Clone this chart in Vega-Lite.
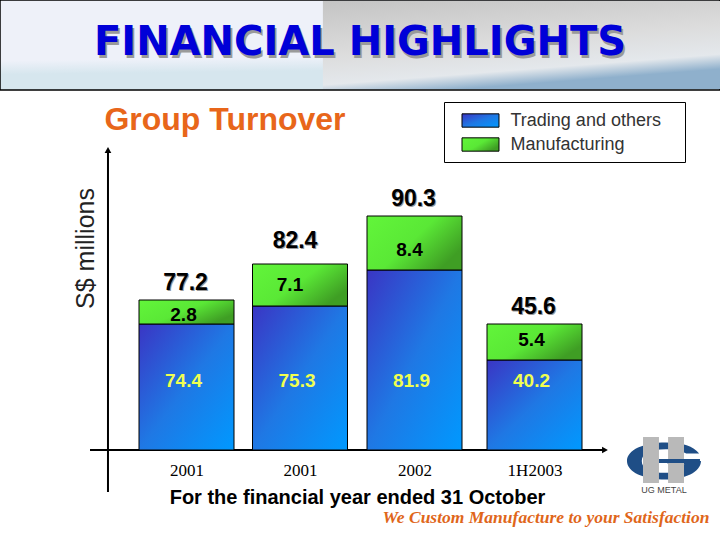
{
  "$schema": "https://vega.github.io/schema/vega-lite/v6.json",
  "width": 720,
  "height": 450,
  "padding": {"left": 0, "top": 0, "right": 0, "bottom": 90},
  "autosize": {"type": "none"},
  "background": "white",
  "config": {"view": {"stroke": null}},
  "title": {
    "text": "FINANCIAL HIGHLIGHTS",
    "anchor": "middle",
    "frame": "group",
    "font": "DejaVu Sans",
    "fontSize": 40,
    "fontWeight": "bold",
    "color": "#0000d8",
    "dy": 68
  },
  "datasets": {
    "turnover": [
      {"bar": 1, "period": "2001", "segment": "Trading and others", "value": 74.4},
      {"bar": 1, "period": "2001", "segment": "Manufacturing", "value": 2.8},
      {"bar": 2, "period": "2001", "segment": "Trading and others", "value": 75.3},
      {"bar": 2, "period": "2001", "segment": "Manufacturing", "value": 7.1},
      {"bar": 3, "period": "2002", "segment": "Trading and others", "value": 81.9},
      {"bar": 3, "period": "2002", "segment": "Manufacturing", "value": 8.4},
      {"bar": 4, "period": "1H2003", "segment": "Trading and others", "value": 40.2},
      {"bar": 4, "period": "1H2003", "segment": "Manufacturing", "value": 5.4}
    ],
    "totals": [
      {"bar": 1, "total": 77.2},
      {"bar": 2, "total": 82.4},
      {"bar": 3, "total": 90.3},
      {"bar": 4, "total": 45.6}
    ],
    "note": [{"note": "decoration"}]
  },
  "data": {"name": "note"},
  "layer": [
    {
      "mark": {
        "type": "rect",
        "stroke": "black",
        "strokeWidth": 1.5,
        "fill": {
          "gradient": "linear", "x1": 0.2, "y1": 0, "x2": 0.3, "y2": 1,
          "stops": [
            {"offset": 0, "color": "#eef1f9"},
            {"offset": 0.65, "color": "#eef1f9"},
            {"offset": 0.8, "color": "#d6e6ee"},
            {"offset": 1, "color": "#d6e6ee"}
          ]
        }
      },
      "encoding": {
        "x": {
          "datum": 0, "type": "quantitative",
          "scale": {"domain": [0, 1, 2, 3, 4, 5], "range": [0, 186.5, 300, 414.5, 534.5, 720], "zero": false, "nice": false, "padding": 0},
          "axis": {
            "values": [1, 2, 3, 4],
            "labelExpr": "['2001','2001','2002','1H2003'][datum.value-1]",
            "domain": false, "ticks": false, "grid": false,
            "labelFont": "Liberation Serif", "labelFontSize": 17, "labelColor": "black", "labelPadding": 12, "labelOverlap": false,
            "title": "For the financial year ended 31 October",
            "titleFont": "Liberation Sans", "titleFontSize": 20, "titleFontWeight": "bold", "titleColor": "black",
            "titleX": 357, "titleY": 37
          }
        },
        "x2": {"datum": 5},
        "y": {
          "datum": 150, "type": "quantitative",
          "scale": {"domain": [-30, 0, 40.2, 45.6, 74.4, 75.3, 77.2, 81.9, 82.4, 90.3, 100, 150], "range": [540, 450, 360, 324, 324, 306, 300, 270, 264, 216, 150, 0], "zero": false, "nice": false},
          "axis": {
            "domain": false, "ticks": false, "labels": false, "grid": false,
            "title": "S$ millions",
            "titleFont": "Liberation Sans", "titleFontSize": 25, "titleFontWeight": "normal", "titleColor": "#222222",
            "titleX": 98, "titleY": 248
          }
        },
        "y2": {"datum": 120}
      }
    },
    {
      "mark": {
        "type": "rect",
        "fill": {
          "gradient": "linear", "x1": 0, "y1": 0, "x2": 0.35, "y2": 1,
          "stops": [
            {"offset": 0, "color": "#c4c4c4"},
            {"offset": 0.55, "color": "#dcdcdc"},
            {"offset": 0.85, "color": "#e4e8ec"},
            {"offset": 1, "color": "#8fb0cc"}
          ]
        }
      },
      "encoding": {
        "x": {"datum": 2.2, "type": "quantitative"},
        "x2": {"datum": 5},
        "y": {"datum": 149.7, "type": "quantitative"},
        "y2": {"datum": 120.3}
      }
    },
    {
      "mark": {"type": "text", "font": "DejaVu Sans", "fontSize": 40, "fontWeight": "bold", "color": "#9a9a9a", "baseline": "alphabetic"},
      "encoding": {
        "x": {"datum": 2.54, "type": "quantitative"},
        "y": {"datum": 130.67, "type": "quantitative"},
        "text": {"value": "FINANCIAL HIGHLIGHTS"}
      }
    },
    {
      "mark": {"type": "text", "font": "Liberation Sans", "fontSize": 32, "fontWeight": "bold", "color": "#e8661a"},
      "encoding": {
        "x": {"datum": 1.339, "type": "quantitative"},
        "y": {"datum": 110, "type": "quantitative"},
        "text": {"value": "Group Turnover"}
      }
    },
    {
      "mark": {"type": "rule", "color": "black", "strokeWidth": 2},
      "encoding": {
        "x": {"datum": 0.579, "type": "quantitative"},
        "y": {"datum": 100, "type": "quantitative"},
        "y2": {"datum": -14}
      }
    },
    {
      "mark": {"type": "rule", "color": "black", "strokeWidth": 2},
      "encoding": {
        "x": {"datum": 0.4826, "type": "quantitative"},
        "x2": {"datum": 4.38},
        "y": {"datum": 0, "type": "quantitative"}
      }
    },
    {
      "mark": {"type": "point", "shape": "triangle-up", "filled": true, "color": "black", "size": 45, "opacity": 1},
      "encoding": {
        "x": {"datum": 0.579, "type": "quantitative"},
        "y": {"datum": 100, "type": "quantitative"}
      }
    },
    {
      "mark": {"type": "point", "shape": "triangle-right", "filled": true, "color": "black", "size": 45, "opacity": 1},
      "encoding": {
        "x": {"datum": 4.38, "type": "quantitative"},
        "y": {"datum": 0, "type": "quantitative"}
      }
    },
    {
      "data": {"name": "turnover"},
      "mark": {"type": "bar", "width": 95, "stroke": "black", "strokeWidth": 1},
      "encoding": {
        "x": {"field": "bar", "type": "quantitative"},
        "y": {"aggregate": "sum", "field": "value", "type": "quantitative", "stack": "zero"},
        "color": {
          "field": "segment", "type": "nominal",
          "scale": {
            "domain": ["Trading and others", "Manufacturing"],
            "range": [
              {"signal": "{gradient:'linear',x1:0,y1:0,x2:1,y2:1,stops:[{offset:0,color:'#3a35c4'},{offset:0.5,color:'#1f78e4'},{offset:1,color:'#0099ff'}]}"},
              {"signal": "{gradient:'linear',x1:0,y1:0,x2:1,y2:0.6,stops:[{offset:0,color:'#62f53a'},{offset:0.55,color:'#5ae836'},{offset:1,color:'#3f9e24'}]}"}
            ]
          },
          "legend": {
            "orient": "none", "legendX": 444, "legendY": 102,
            "title": null,
            "strokeColor": "black", "fillColor": "white", "padding": 8.5,
            "symbolType": "M-2,-0.72H2V0.72H-2Z",
            "symbolSize": 342, "symbolStrokeColor": "black", "symbolStrokeWidth": 1, "symbolOpacity": 1, "symbolOffset": 18,
            "labelFont": "Liberation Sans", "labelFontSize": 18, "labelColor": "#333333", "labelOffset": 20, "rowPadding": 5, "labelLimit": 400,
            "labelExpr": "datum.label + '\u00a0\u00a0\u00a0\u200b'"
          }
        },
        "order": {"field": "segment", "sort": "descending"}
      }
    },
    {
      "data": {"name": "turnover"},
      "transform": [{"filter": "datum.segment === 'Trading and others'"}],
      "mark": {"type": "text", "font": "Liberation Sans", "fontSize": 19, "fontWeight": "bold", "color": "#f0ff50", "dx": -3},
      "encoding": {
        "x": {"field": "bar", "type": "quantitative"},
        "y": {"datum": 30.8, "type": "quantitative"},
        "text": {"field": "value", "type": "quantitative", "format": ".1f"}
      }
    },
    {
      "data": {"name": "turnover"},
      "mark": {
        "type": "text", "font": "Liberation Sans", "fontSize": 19, "fontWeight": "bold", "color": "black",
        "dy": {"expr": "[10.6,-4.5,8.5,-2][datum.bar-1]"},
        "dx": {"expr": "[-3,-10,-5,-3][datum.bar-1]"}
      },
      "encoding": {
        "x": {"field": "bar", "type": "quantitative"},
        "y": {"aggregate": "sum", "field": "value", "type": "quantitative", "stack": "zero", "bandPosition": 0.5},
        "detail": {"field": "segment"},
        "order": {"field": "segment", "sort": "descending"},
        "text": {
          "condition": {"test": "datum.segment === 'Trading and others'", "value": ""},
          "aggregate": "sum", "field": "value", "type": "quantitative", "format": ".1f"
        }
      }
    },
    {
      "data": {"name": "totals"},
      "mark": {
        "type": "text", "font": "Liberation Sans", "fontSize": 23, "fontWeight": "bold", "color": "#9a9a9a",
        "dy": {"expr": "datum.bar === 2 ? -22 : -16"},
        "dx": {"expr": "datum.bar === 2 ? -4 : 0"}
      },
      "encoding": {
        "x": {"field": "bar", "type": "quantitative"},
        "y": {"field": "total", "type": "quantitative"},
        "text": {"field": "total", "type": "quantitative", "format": ".1f"}
      }
    },
    {
      "data": {"name": "totals"},
      "mark": {
        "type": "text", "font": "Liberation Sans", "fontSize": 23, "fontWeight": "bold", "color": "black",
        "dy": {"expr": "datum.bar === 2 ? -23 : -17"},
        "dx": {"expr": "datum.bar === 2 ? -5 : -1"}
      },
      "encoding": {
        "x": {"field": "bar", "type": "quantitative"},
        "y": {"field": "total", "type": "quantitative"},
        "text": {"field": "total", "type": "quantitative", "format": ".1f"}
      }
    },
    {
      "mark": {"type": "text", "font": "Liberation Serif", "fontSize": 17.5, "fontStyle": "italic", "fontWeight": "bold", "color": "#e0661a"},
      "encoding": {
        "x": {"datum": 4.062, "type": "quantitative"},
        "y": {"datum": -22.67, "type": "quantitative"},
        "text": {"value": "We Custom Manufacture to your Satisfaction"}
      }
    },
    {
      "mark": {"type": "point", "shape": "M0.05,-0.5C-0.55,-0.5,-1,-0.3,-1,0C-1,0.3,-0.55,0.5,0.05,0.5C0.55,0.5,1,0.3,1,0L0.1,0L0.1,0.08L0.55,0.08C0.5,0.22,0.3,0.32,0.05,0.32C-0.4,0.32,-0.6,0.2,-0.6,0C-0.6,-0.2,-0.4,-0.32,0.05,-0.32C0.3,-0.32,0.5,-0.28,0.6,-0.2L0.95,-0.2C0.8,-0.4,0.5,-0.5,0.05,-0.5Z", "filled": true, "color": "#1f4e86", "size": 5476, "opacity": 1},
      "encoding": {
        "x": {"datum": 4.698, "type": "quantitative"},
        "y": {"datum": -3.67, "type": "quantitative"}
      }
    },
    {
      "mark": {"type": "rect", "fill": "#b9b9b9"},
      "encoding": {
        "x": {"datum": 4.585, "type": "quantitative"},
        "x2": {"datum": 4.671},
        "y": {"datum": 5.8, "type": "quantitative"},
        "y2": {"datum": -11}
      }
    },
    {
      "mark": {"type": "rect", "fill": "#b9b9b9"},
      "encoding": {
        "x": {"datum": 4.72, "type": "quantitative"},
        "x2": {"datum": 4.806},
        "y": {"datum": 5.8, "type": "quantitative"},
        "y2": {"datum": -11}
      }
    },
    {
      "mark": {"type": "rect", "fill": "#1f4e86"},
      "encoding": {
        "x": {"datum": 4.671, "type": "quantitative"},
        "x2": {"datum": 4.892},
        "y": {"datum": -3, "type": "quantitative"},
        "y2": {"datum": -4.33}
      }
    },
    {
      "mark": {"type": "text", "font": "Liberation Sans", "fontSize": 9, "color": "#444444"},
      "encoding": {
        "x": {"datum": 4.698, "type": "quantitative"},
        "y": {"datum": -13.3, "type": "quantitative"},
        "text": {"value": "UG METAL"}
      }
    }
  ]
}
